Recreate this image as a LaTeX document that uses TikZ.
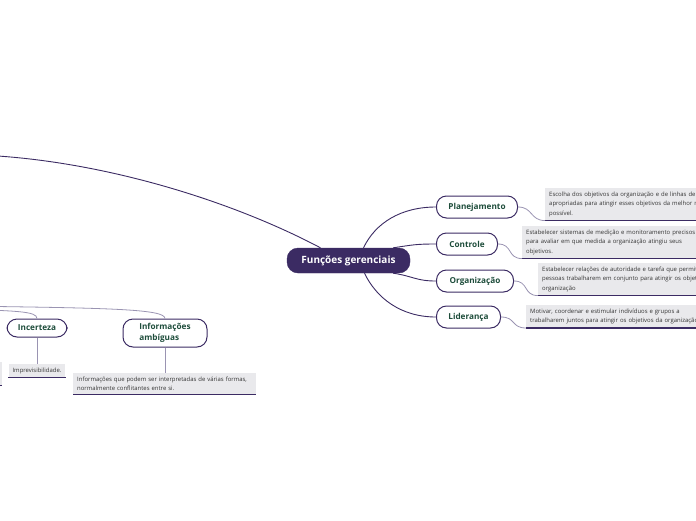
\documentclass[tikz,border=0pt]{standalone}
\usepackage{fontspec}
\setmainfont{Open Sans}
\definecolor{mpurple}{HTML}{3B2B63}
\definecolor{mgreen}{HTML}{1E4D3B}
\definecolor{dgray}{HTML}{E9E9EC}
\definecolor{lline}{HTML}{9A94B2}
\definecolor{dtext}{HTML}{333333}
\begin{document}
\begin{tikzpicture}[x=1pt,y=-1pt,
  central/.style={fill=mpurple, draw=mpurple, rounded corners=11pt, text=white,
    font=\fontsize{10}{12}\selectfont\bfseries, minimum width=123pt, minimum height=25pt, inner sep=0pt},
  topic/.style={fill=white, draw=mpurple, line width=1pt, rounded corners=10pt, text=mgreen,
    font=\fontsize{8.2}{11}\selectfont\bfseries, minimum height=22pt, inner sep=0pt},
  desc/.style={fill=dgray, text=dtext, font=\fontsize{5.95}{9.6}\selectfont, align=left,
    anchor=north west, inner xsep=4pt, inner ysep=3.5pt},
  mainline/.style={draw=mpurple, line width=0.9pt},
  subline/.style={draw=lline, line width=0.8pt},
  underline/.style={draw=mpurple, line width=1.4pt}]
\useasboundingbox (0,0) rectangle (696,520);
\clip (0,0) rectangle (696,520);

% central
\node[central] (c) at (348.5,260.5) {Funções gerenciais};

% topics right
\node[topic, minimum width=81pt, anchor=west] (plan) at (436,207) {Planejamento};
\node[topic, minimum width=61pt, anchor=west] (ctrl) at (436,244) {Controle};
\node[topic, minimum width=77pt, anchor=west] (org) at (436,281) {Organização};
\node[topic, minimum width=64pt, anchor=west] (lid) at (436,317) {Liderança};

% descriptions right
\node[desc, text width=190pt] (pd) at (545,188) {Escolha dos objetivos da organização e de linhas de ação\\apropriadas para atingir esses objetivos da melhor maneira\\possível.};
\node[desc, text width=190pt] (cd) at (522,226) {Estabelecer sistemas de medição e monitoramento precisos\\para avaliar em que medida a organização atingiu seus\\objetivos.};
\node[desc, text width=190pt] (od) at (538,263) {Estabelecer relações de autoridade e tarefa que permitam às\\pessoas trabalharem em conjunto para atingir os objetivos da\\organização};
\node[desc, text width=190pt] (ld) at (526,305) {Motivar, coordenar e estimular indivíduos e grupos a\\trabalharem juntos para atingir os objetivos da organização.};
\foreach \n in {pd,cd,od,ld} \draw[underline] (\n.south west) -- (\n.south east);

% main connectors
\draw[mainline] ([xshift=15pt]c.north) .. controls +(12,-25) and +(-35,0) .. (plan.west);
\draw[mainline] ([xshift=-17pt]c.north east) .. controls +(20,-3) and +(-20,0) .. (ctrl.west);
\draw[mainline] ([xshift=-17pt]c.south east) .. controls +(20,3) and +(-20,0) .. (org.west);
\draw[mainline] ([xshift=16pt]c.south) .. controls +(12,25) and +(-35,0) .. (lid.west);

% description connectors
\draw[subline] (plan.east) .. controls +(15,0) and +(-15,0) .. (pd.south west);
\draw[subline] (ctrl.east) .. controls +(15,0) and +(-15,0) .. (cd.south west);
\draw[subline] (org.east) .. controls +(15,0) and +(-15,0) .. (od.south west);
\draw[subline] (lid.east) .. controls +(15,0) and +(-15,0) .. (ld.south west);

% left branch
\coordinate (lft0) at (-20,155);
\draw[mainline] ([xshift=-28pt]c.north) .. controls (230,200) and (100,160) .. (lft0);

% left-bottom topics
\node[topic, minimum width=60pt, minimum height=18pt] (inc) at (37,328) {Incerteza};
\node[topic, minimum width=84pt, minimum height=28pt, align=left] (info) at (165,333) {Informações\\ambíguas};

\coordinate (lft1) at (-40,306);
\coordinate (lft2) at (-40,309);
\draw[subline] (lft1) .. controls (110,308) and (165,309) .. (info.north);
\draw[subline] (lft2) .. controls (15,311) and (37,311) .. (inc.north);

\node[desc, anchor=north] (imp) at (37,364) {Imprevisibilidade.};
\node[desc, text width=175pt] (infod) at (73,373) {Informações que podem ser interpretadas de várias formas,\\normalmente conflitantes entre si.};
\draw[underline] (imp.south west) -- (imp.south east);
\draw[underline] (infod.south west) -- (infod.south east);
\draw[subline] (inc.south) -- (imp.north);
\draw[subline] (info.south) -- (info.south |- infod.north);

% partially visible box at left edge
\node[fill=dgray, inner sep=0pt, minimum width=30pt, minimum height=23pt, anchor=north east] (eb) at (2,362) {};
\draw[underline] (eb.south west) -- (eb.south east);
\end{tikzpicture}
\end{document}
